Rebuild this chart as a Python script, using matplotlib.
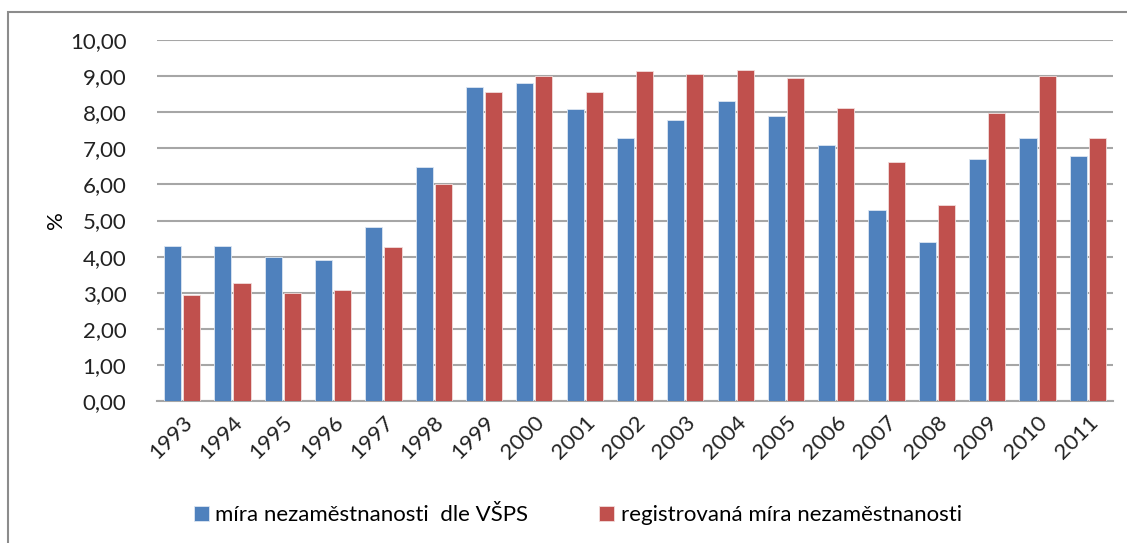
import matplotlib.pyplot as plt
import numpy as np
from matplotlib.patches import Rectangle

years = ["1993", "1994", "1995", "1996", "1997", "1998", "1999", "2000", "2001", "2002",
         "2003", "2004", "2005", "2006", "2007", "2008", "2009", "2010", "2011"]
vsps = [4.30, 4.30, 4.00, 3.91, 4.81, 6.49, 8.71, 8.82, 8.08, 7.29,
        7.79, 8.32, 7.89, 7.08, 5.30, 4.40, 6.70, 7.29, 6.79]
registered = [2.94, 3.27, 3.00, 3.08, 4.27, 6.01, 8.55, 9.00, 8.55, 9.15,
              9.05, 9.18, 8.94, 8.12, 6.62, 5.43, 7.99, 9.00, 7.29]
series_names = ["míra nezaměstnanosti  dle VŠPS", "registrovaná míra nezaměstnanosti"]

plt.rcParams['font.family'] = ['Lato', 'DejaVu Sans']

fig = plt.figure(figsize=(11.27, 5.43), dpi=100)
ax = fig.add_axes([157 / 1127, 1 - 401 / 543, 956 / 1127, 361 / 543])

x = np.arange(len(years))
w = 0.34
ax.bar(x - 0.19, vsps, w, color="#4F81BD", edgecolor="#DCE6F2", linewidth=0.6,
       label=series_names[0], zorder=3)
ax.bar(x + 0.19, registered, w, color="#C0504D", edgecolor="#F2DCDB", linewidth=0.6,
       label=series_names[1], zorder=3)

ax.set_xlim(-0.5, len(years) - 0.5)
ax.set_ylim(0, 10)
ax.set_yticks(np.arange(0, 11, 1))
ax.set_yticklabels([f"{v:.2f}".replace(".", ",") for v in range(0, 11)], fontsize=16, color="#222222")
ax.set_xticks(x)
ax.set_xticklabels(years, rotation=45, ha="right", rotation_mode="anchor", fontsize=16, color="#222222")
ax.tick_params(axis="y", length=0, pad=22)
ax.tick_params(axis="x", length=0, pad=8)
ax.yaxis.grid(True, color="#A6A6A6", linewidth=1.5, zorder=0)
for s in ["top", "right", "left"]:
    ax.spines[s].set_visible(False)
ax.spines["bottom"].set_color("#A6A6A6")
ax.spines["bottom"].set_linewidth(1.5)
ax.set_ylabel("%", fontsize=16)
ax.yaxis.set_label_coords((66 - 157) / 956, 0.5)

fig.legend(loc="center", bbox_to_anchor=(578 / 1127, 1 - 515 / 543), ncol=2, frameon=False,
           fontsize=16, handlelength=0.65, handleheight=0.65, handletextpad=0.3, columnspacing=3.2)

border = Rectangle((8 / 1127, -0.05), 1.2, 1 - 12 / 543 + 0.05, transform=fig.transFigure,
                   fill=False, edgecolor="#8C8C8C", linewidth=1.5, clip_on=False)
fig.patches.append(border)

fig.savefig("out.png", dpi=100)
plt.close(fig)
